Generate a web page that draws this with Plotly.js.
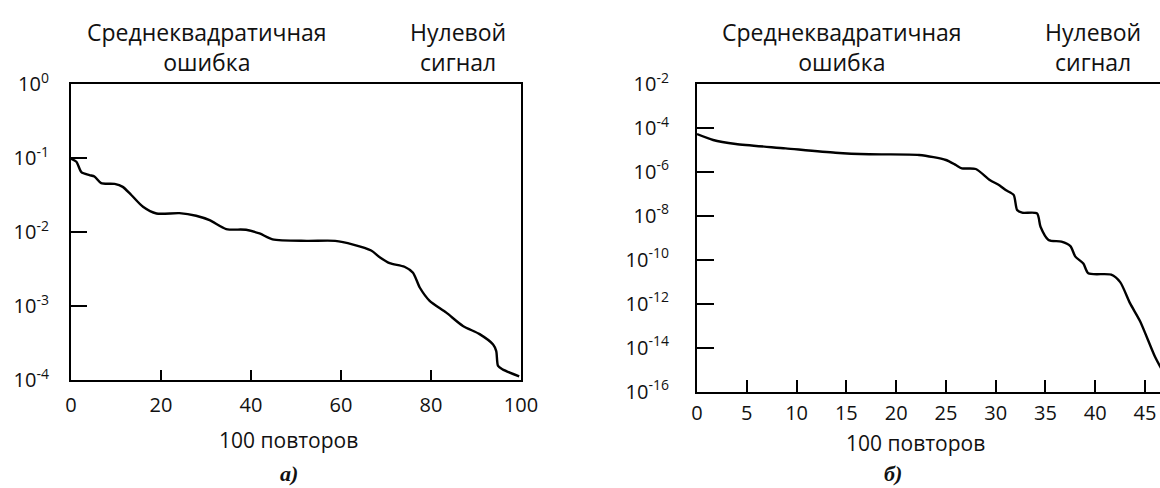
<!DOCTYPE html>
<html>
<head>
<meta charset="utf-8">
<script src="https://cdn.plot.ly/plotly-3.0.1.min.js"></script>
<style>html,body{margin:0;padding:0;background:#fff;}#chart{width:1160px;height:488px;}</style>
</head>
<body>
<div id="chart"></div>
<script>
// Panel а): mean-square error vs. repetitions (x in units of 100 repetitions)
var xA = [0, 1.2, 2.3, 4.1, 5.2, 6.7, 9.7, 11.5, 13.4, 16, 19, 24.1, 27.8, 30.8, 34.5, 38.9, 41.9, 44.8, 52.4, 58.7, 62.7, 66.7, 68.6, 70.8, 74.1, 76, 77.5, 79.7, 83.4, 87.1, 90.8, 93.8, 94.5, 94.9, 96.0, 99.6];
var logA = [-1.01, -1.05, -1.19, -1.23, -1.25, -1.34, -1.35, -1.39, -1.50, -1.66, -1.75, -1.745, -1.78, -1.84, -1.96, -1.97, -2.02, -2.10, -2.12, -2.12, -2.17, -2.25, -2.34, -2.42, -2.47, -2.55, -2.75, -2.93, -3.09, -3.27, -3.38, -3.52, -3.61, -3.81, -3.86, -3.95];
var yA = logA.map(function(v){return Math.pow(10, v);});

// Panel б)
var xB = [0, 1.62, 3.9, 8.9, 13.9, 17.3, 22.3, 25.0, 26.0, 26.6, 28.0, 29.4, 30.4, 31.0, 31.8, 32.15, 32.65, 34.15, 34.5, 35.3, 36.6, 37.5, 38.0, 38.8, 39.3, 41.6, 42.5, 43.5, 44.5, 46.0, 46.8];
var logB = [-4.28, -4.55, -4.73, -4.93, -5.13, -5.20, -5.23, -5.46, -5.69, -5.84, -5.87, -6.37, -6.62, -6.83, -7.05, -7.74, -7.86, -7.89, -8.50, -9.10, -9.18, -9.38, -9.86, -10.17, -10.62, -10.68, -11.02, -11.99, -12.80, -14.42, -15.10];
var yB = logB.map(function(v){return Math.pow(10, v);});

var xTicksA = [0, 20, 40, 60, 80, 100];
var yTickValsA = [1, 1e-1, 1e-2, 1e-3, 1e-4];
var yTickTextA = ['10<sup>0</sup>', '10<sup>-1</sup>', '10<sup>-2</sup>', '10<sup>-3</sup>', '10<sup>-4</sup>'];
var xTicksB = [0, 5, 10, 15, 20, 25, 30, 35, 40, 45];
var yTickValsB = [1e-2, 1e-4, 1e-6, 1e-8, 1e-10, 1e-12, 1e-14, 1e-16];
var yTickTextB = ['10<sup>-2</sup>', '10<sup>-4</sup>', '10<sup>-6</sup>', '10<sup>-8</sup>', '10<sup>-10</sup>', '10<sup>-12</sup>', '10<sup>-14</sup>', '10<sup>-16</sup>'];

var topLeft = 'Среднеквадратичная<br>ошибка';
var topRight = 'Нулевой<br>сигнал';
var xTitle = '100 повторов';
var panelA = 'а)';
var panelB = 'б)';

var FONT = 'Open Sans, Noto Sans, sans-serif';
var tickFont = {family: FONT, size: 20, color: '#111'};
var titleFont = {family: FONT, size: 23, color: '#111'};

function H(px){return 1 - px/488;}
function W(px){return px/1160;}

var traces = [
  {x: xA, y: yA, type: 'scatter', mode: 'lines', xaxis: 'x', yaxis: 'y',
   line: {color: '#000', width: 2.4, shape: 'spline', smoothing: 0.7}, hoverinfo: 'skip'},
  {x: xB, y: yB, type: 'scatter', mode: 'lines', xaxis: 'x2', yaxis: 'y2',
   line: {color: '#000', width: 2.4, shape: 'spline', smoothing: 0.7}, hoverinfo: 'skip'}
];

var axCommon = {showgrid: false, zeroline: false, showline: true, linecolor: '#000', linewidth: 2,
  ticks: 'inside', tickcolor: '#000', tickwidth: 2, tickfont: tickFont, fixedrange: true};

var layout = {
  width: 1160, height: 488,
  margin: {l: 0, r: 0, t: 0, b: 0},
  paper_bgcolor: '#fff', plot_bgcolor: '#fff',
  showlegend: false,
  xaxis: Object.assign({}, axCommon, {domain: [W(71), W(521)], range: [0, 100], anchor: 'y',
    tickmode: 'array', tickvals: xTicksA, ticklen: 10, mirror: true, ticklabelstandoff: 6}),
  yaxis: Object.assign({}, axCommon, {domain: [H(380), H(84)], type: 'log', range: [-4, 0], anchor: 'x',
    tickmode: 'array', tickvals: yTickValsA, ticktext: yTickTextA, ticklen: 16, mirror: true, ticklabelstandoff: 16}),
  xaxis2: Object.assign({}, axCommon, {domain: [W(697), 1], range: [0, 46.5], anchor: 'y2',
    tickmode: 'array', tickvals: xTicksB, ticklen: 12, mirror: true, ticklabelstandoff: 2}),
  yaxis2: Object.assign({}, axCommon, {domain: [H(391.5), H(84)], type: 'log', range: [-16, -2], anchor: 'x2',
    tickmode: 'array', tickvals: yTickValsB, ticktext: yTickTextB, ticklen: 17, mirror: false, ticklabelstandoff: 22}),
  annotations: [
    {text: topLeft, xref: 'paper', yref: 'paper', x: W(207), y: H(46.5), xanchor: 'center', yanchor: 'middle', showarrow: false, font: titleFont, align: 'center'},
    {text: topRight, xref: 'paper', yref: 'paper', x: W(458), y: H(46.5), xanchor: 'center', yanchor: 'middle', showarrow: false, font: titleFont, align: 'center'},
    {text: topLeft, xref: 'paper', yref: 'paper', x: W(842), y: H(46.5), xanchor: 'center', yanchor: 'middle', showarrow: false, font: titleFont, align: 'center'},
    {text: topRight, xref: 'paper', yref: 'paper', x: W(1093), y: H(46.5), xanchor: 'center', yanchor: 'middle', showarrow: false, font: titleFont, align: 'center'},
    {text: xTitle, xref: 'paper', yref: 'paper', x: W(288), y: H(440), xanchor: 'center', yanchor: 'middle', showarrow: false, font: {family: FONT, size: 21, color: '#111'}},
    {text: xTitle, xref: 'paper', yref: 'paper', x: W(915), y: H(443), xanchor: 'center', yanchor: 'middle', showarrow: false, font: {family: FONT, size: 21, color: '#111'}},
    {text: '<b><i>' + panelA + '</i></b>', xref: 'paper', yref: 'paper', x: W(289), y: H(473), xanchor: 'center', yanchor: 'middle', showarrow: false, font: {family: 'Liberation Serif, serif', size: 22, color: '#111'}},
    {text: '<b><i>' + panelB + '</i></b>', xref: 'paper', yref: 'paper', x: W(893), y: H(473), xanchor: 'center', yanchor: 'middle', showarrow: false, font: {family: 'Liberation Serif, serif', size: 22, color: '#111'}}
  ]
};

Plotly.newPlot('chart', traces, layout, {displayModeBar: false, staticPlot: true});
</script>
</body>
</html>
